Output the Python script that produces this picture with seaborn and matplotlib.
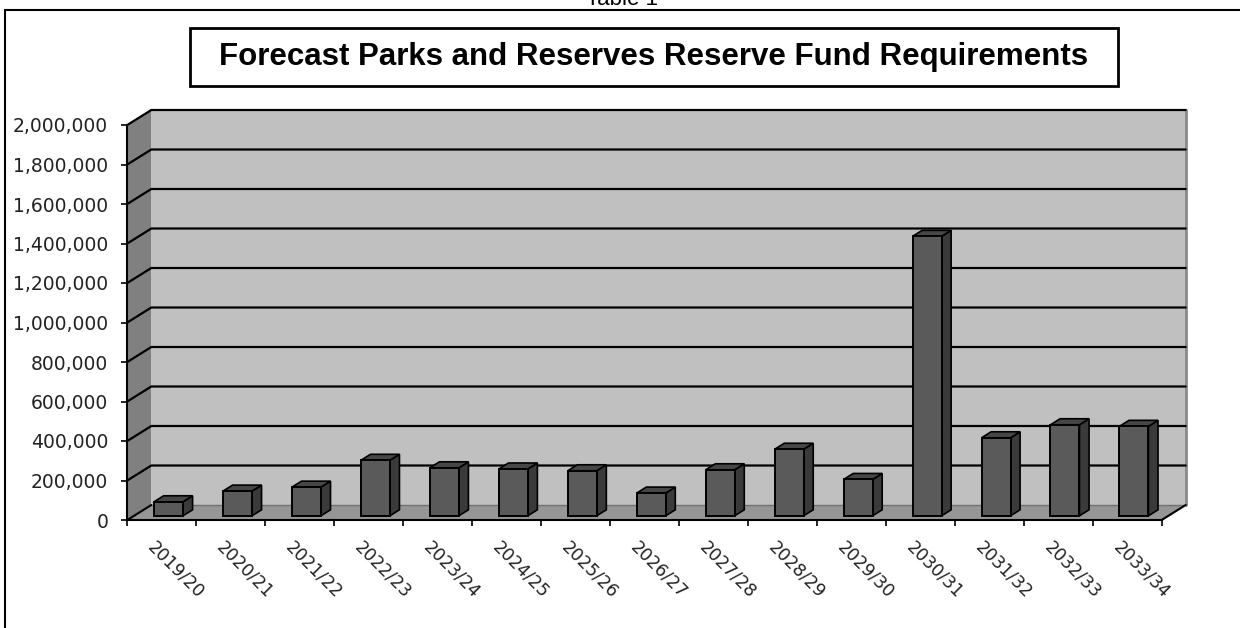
import numpy as np
import pandas as pd
import matplotlib
matplotlib.use("Agg")
import matplotlib.pyplot as plt
import seaborn as sns
from matplotlib.patches import Polygon, Rectangle
from matplotlib.lines import Line2D
from matplotlib import transforms

# ---- data ----
years = ["2019/20", "2020/21", "2021/22", "2022/23", "2023/24", "2024/25", "2025/26",
         "2026/27", "2027/28", "2028/29", "2029/30", "2030/31", "2031/32", "2032/33", "2033/34"]
values = [71000, 125000, 145000, 281000, 243000, 237000, 228000,
          115000, 233000, 337000, 184000, 1415000, 395000, 461000, 453000]
y_ticks = [0, 200000, 400000, 600000, 800000, 1000000, 1200000, 1400000, 1600000, 1800000, 2000000]
title = "Forecast Parks and Reserves Reserve Fund Requirements"
caption = "Table 1"

W, H = 1240, 628
sns.set_theme(style="white")
plt.rcParams['font.family'] = ['DejaVu Sans']

fig = plt.figure(figsize=(W / 100, H / 100), dpi=100)
fig.patch.set_facecolor("white")

# front plane of the 3-D box
ax_l, ax_r, ax_b, ax_t = 127.3, 1161.7, 520, 125
ax = fig.add_axes([ax_l / W, (H - ax_b) / H, (ax_r - ax_l) / W, (ax_b - ax_t) / H])
ax.patch.set_visible(False)

df = pd.DataFrame({"year": years, "value": values})
bw = 0.42
sns.barplot(data=df, x="year", y="value", color="#5a5a5a", saturation=1, width=bw,
            edgecolor="black", linewidth=1.4, ax=ax, zorder=6)

n = len(years)
ymax = max(y_ticks)
ax.set_xlim(-0.5, n - 0.5)
ax.set_ylim(0, ymax)

# depth vector (data units) for 24px right, 15px up
px_x = (ax_r - ax_l) / n
px_y = (ax_b - ax_t) / ymax
ddx, ddy = 24 / px_x, 15 / px_y
d0, d1 = 0.28, 0.68

# shift front faces to their depth
shift = transforms.Affine2D().translate(d0 * ddx, d0 * ddy) + ax.transData
for p in list(ax.patches):
    p.set_transform(shift)
    p.set_clip_on(False)

x0, x1 = -0.5, n - 0.5
# walls and floor
ax.add_patch(Polygon([(x0, 0), (x0, ymax), (x0 + ddx, ymax + ddy), (x0 + ddx, ddy)],
                     closed=True, facecolor="#808080", edgecolor="none", zorder=1, clip_on=False))
ax.add_patch(Rectangle((x0 + ddx, ddy), x1 - x0, ymax, facecolor="#c0c0c0",
                       edgecolor="none", zorder=1, clip_on=False))
ax.add_line(Line2D([x1 + ddx, x1 + ddx], [ddy, ymax + ddy], color="#8a8a8a", lw=2, zorder=2, clip_on=False))
ax.add_patch(Polygon([(x0, 0), (x1, 0), (x1 + ddx, ddy), (x0 + ddx, ddy)],
                     closed=True, facecolor="#969696", edgecolor="none", zorder=2, clip_on=False))
ax.add_line(Line2D([x0 + ddx, x1 + ddx], [ddy, ddy], color="#707070", lw=1, zorder=3, clip_on=False))
ax.add_line(Line2D([x1, x1 + ddx], [0, ddy], color="black", lw=1.5, zorder=3, clip_on=False))
ax.add_line(Line2D([x0, x0 + ddx], [0, ddy], color="black", lw=1.5, zorder=3, clip_on=False))

# gridlines on left and back walls
for v in y_ticks[1:]:
    ax.add_line(Line2D([x0, x0 + ddx, x1 + ddx], [v, v + ddy, v + ddy], color="black",
                       lw=1.6, zorder=3, clip_on=False))

# side and top faces of bars
for i, v in enumerate(values):
    xl, xr = i - bw / 2, i + bw / 2
    side = [(xr + d0 * ddx, d0 * ddy), (xr + d0 * ddx, v + d0 * ddy),
            (xr + d1 * ddx, v + d1 * ddy), (xr + d1 * ddx, d1 * ddy)]
    top = [(xl + d0 * ddx, v + d0 * ddy), (xr + d0 * ddx, v + d0 * ddy),
           (xr + d1 * ddx, v + d1 * ddy), (xl + d1 * ddx, v + d1 * ddy)]
    ax.add_patch(Polygon(side, closed=True, facecolor="#3a3a3a", edgecolor="black",
                         lw=1.2, zorder=5, clip_on=False))
    ax.add_patch(Polygon(top, closed=True, facecolor="#464646", edgecolor="black",
                         lw=1.2, zorder=5, clip_on=False))

# axes styling
for s in ["top", "right"]:
    ax.spines[s].set_visible(False)
for s in ["left", "bottom"]:
    ax.spines[s].set_visible(True)
    ax.spines[s].set_color("black")
    ax.spines[s].set_linewidth(1.5)
    ax.spines[s].set_zorder(7)
ax.set_xlabel("")
ax.set_ylabel("")
ax.set_yticks(y_ticks)
ax.set_yticklabels([f"{t:,}" for t in y_ticks])
ax.tick_params(axis="y", direction="out", length=4.3, width=1.2, color="black",
               pad=9.5, labelsize=13.5, labelcolor="#222222", left=True)
ax.set_xticks(np.arange(-0.5, n, 1.0))
ax.set_xticklabels([])
ax.tick_params(axis="x", direction="out", length=4.3, width=1.2, color="black", bottom=True)

lab_off = transforms.ScaledTranslation(-5 / 100, -18 / 100, fig.dpi_scale_trans)
for i, y in enumerate(years):
    ax.text(i, 0, y, transform=ax.transData + lab_off, rotation=-45, rotation_mode="anchor",
            ha="left", va="top", fontsize=12.5, color="#222222", clip_on=False)

# outer frame
fig.add_artist(Line2D([5 / W, 5 / W], [0, 1 - 10 / H], transform=fig.transFigure, color="black", lw=1.5))
fig.add_artist(Line2D([5 / W, 1], [1 - 10 / H, 1 - 10 / H], transform=fig.transFigure, color="black", lw=1.5))

# title box
bx0, bx1, by0, by1 = 190, 1118, 28, 86
fig.add_artist(Rectangle((bx0 / W, 1 - by1 / H), (bx1 - bx0) / W, (by1 - by0) / H,
                         transform=fig.transFigure, facecolor="white", edgecolor="black", lw=2))
fig.text((bx0 + bx1) / 2 / W, 1 - (by0 + by1) / 2 / H, title, ha="center", va="center",
         fontsize=22.5, fontweight="bold", family=["Liberation Sans", "DejaVu Sans"], color="black")
fig.text(622 / W, 1 - 5 / H, caption, ha="center", va="baseline", fontsize=16,
         family=["Liberation Sans", "DejaVu Sans"], color="black")

fig.savefig("out.png", dpi=100)
